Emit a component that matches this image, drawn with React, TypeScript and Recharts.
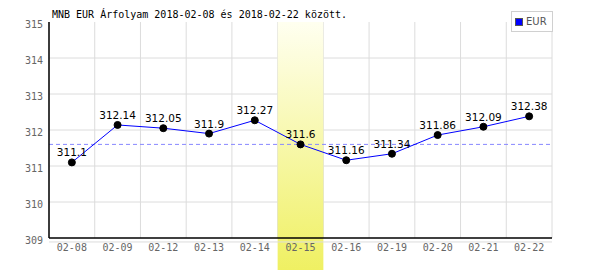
import React from "react";
import {
  LineChart,
  Line,
  XAxis,
  YAxis,
  CartesianGrid,
  ReferenceLine,
  ReferenceArea,
  LabelList,
} from "recharts";

const categories = ["02-08", "02-09", "02-12", "02-13", "02-14", "02-15", "02-16", "02-19", "02-20", "02-21", "02-22"];
const eurValues = [311.1, 312.14, 312.05, 311.9, 312.27, 311.6, 311.16, 311.34, 311.86, 312.09, 312.38];
const yTicks = [309, 310, 311, 312, 313, 314, 315];
const averageValue = 311.6;
const highlightCategory = "02-15";
const titleText = "MNB EUR Árfolyam 2018-02-08 és 2018-02-22 között.";
const seriesName = "EUR";

const data = categories.map((c, i) => ({ i, label: c, value: eurValues[i] }));
const xTicks = categories.map((_, i) => i);
const boundaries = Array.from({ length: categories.length + 1 }, (_, i) => i - 0.5);
const hiIdx = categories.indexOf(highlightCategory);

const W = 600;
const H = 270;

const LegendBox = () => (
  <div
    style={{
      position: "absolute",
      left: 511,
      top: 11,
      width: 40,
      height: 19,
      border: "1px solid #d0d0d0",
      background: "#fff",
      display: "flex",
      alignItems: "center",
      fontFamily: "DejaVu Sans",
      fontSize: 10,
      color: "#555",
    }}
  >
    <span
      style={{
        display: "inline-block",
        width: 6,
        height: 6,
        background: "#0000ff",
        border: "1px solid #555",
        marginLeft: 3,
        marginRight: 3,
      }}
    />
    <span>{seriesName}</span>
  </div>
);

export default function App() {
  return (
    <div style={{ position: "absolute", left: 0, top: 0, width: W, height: H, background: "#fff" }}>
      <LineChart width={W} height={H} data={data} margin={{ top: 22, right: 48, bottom: 0, left: 0 }}>
        <defs>
          <linearGradient id="hiGrad" x1="0" y1="0" x2="0" y2="1">
            <stop offset="0%" stopColor="#fffff0" />
            <stop offset="100%" stopColor="#eff062" />
          </linearGradient>
        </defs>
        <CartesianGrid
          stroke="#dcdcdc"
          verticalCoordinatesGenerator={(props: any) => {
            const ax = props.xAxis;
            if (ax && typeof ax.scale === "function") {
              return boundaries.map((b) => ax.scale(b));
            }
            const off = props.offset;
            return boundaries.map((b) => off.left + ((b + 0.5) / categories.length) * off.width);
          }}
          horizontalCoordinatesGenerator={(props: any) => {
            const ax = props.yAxis;
            const ticks = yTicks.filter((t) => t !== 315 && t !== 309);
            if (ax && typeof ax.scale === "function") {
              return ticks.map((t) => ax.scale(t));
            }
            const off = props.offset;
            return ticks.map((t) => off.top + ((315 - t) / 6) * off.height);
          }}
        />
        <ReferenceArea
          x1={hiIdx - 0.5}
          x2={hiIdx + 0.5}
          y1={308.1}
          y2={315}
          ifOverflow="visible"
          fill="url(#hiGrad)"
          fillOpacity={1}
          stroke="none"
        />
        <ReferenceLine y={308.89} stroke="#dcdcdc" ifOverflow="visible" />
        <XAxis
          dataKey="i"
          type="number"
          domain={[-0.5, categories.length - 0.5]}
          ticks={xTicks}
          interval={0}
          tickFormatter={(v: number) => categories[v] ?? ""}
          axisLine={{ stroke: "#000", strokeWidth: 1.5 }}
          tickLine={false}
          tickSize={0}
          tickMargin={6}
          height={32}
          tick={{ fill: "#666", fontSize: 10, fontFamily: "DejaVu Sans Mono" }}
          allowDataOverflow
        />
        <YAxis
          type="number"
          domain={[309, 315]}
          ticks={yTicks}
          interval={0}
          width={49}
          axisLine={{ stroke: "#000", strokeWidth: 1.5 }}
          tickLine={false}
          tickSize={0}
          tickMargin={6}
          tick={{ fill: "#666", fontSize: 10, fontFamily: "DejaVu Sans Mono", dy: 2 }}
          allowDataOverflow
        />
        <ReferenceLine y={averageValue} stroke="#8888ff" strokeDasharray="4 3" />
        <Line
          type="linear"
          dataKey="value"
          name={seriesName}
          stroke="#0000ff"
          strokeWidth={1}
          dot={{ r: 3.5, fill: "#000", stroke: "#000", strokeWidth: 1 }}
          activeDot={false}
          isAnimationActive={false}
        >
          <LabelList
            dataKey="value"
            position="top"
            offset={6}
            style={{ fill: "#000", fontSize: 10.5, fontFamily: "DejaVu Sans" }}
          />
        </Line>
      </LineChart>
      <LegendBox />
      <div
        style={{
          position: "absolute",
          left: 52,
          top: 9,
          fontFamily: "DejaVu Sans Mono",
          fontSize: 10,
          lineHeight: "12px",
          color: "#000",
          whiteSpace: "nowrap",
        }}
      >
        {titleText}
      </div>
    </div>
  );
}
